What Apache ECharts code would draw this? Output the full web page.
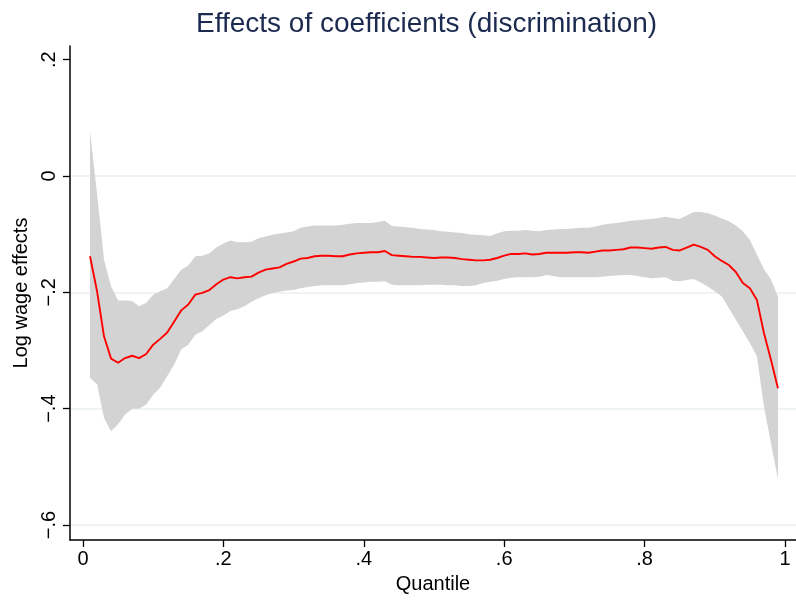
<!DOCTYPE html>
<html>
<head>
<meta charset="utf-8">
<script src="https://cdn.jsdelivr.net/npm/echarts@6/dist/echarts.min.js"></script>
<style>html,body{margin:0;padding:0;background:#fff}#c{width:796px;height:603px}</style>
</head>
<body>
<div id="c"></div>
<script>
var quantiles = [0.01,0.02,0.03,0.04,0.05,0.06,0.07,0.08,0.09,0.10,0.11,0.12,0.13,0.14,0.15,0.16,0.17,0.18,0.19,0.20,
0.21,0.22,0.23,0.24,0.25,0.26,0.27,0.28,0.29,0.30,0.31,0.32,0.33,0.34,0.35,0.36,0.37,0.38,0.39,0.40,
0.41,0.42,0.43,0.44,0.45,0.46,0.47,0.48,0.49,0.50,0.51,0.52,0.53,0.54,0.55,0.56,0.57,0.58,0.59,0.60,
0.61,0.62,0.63,0.64,0.65,0.66,0.67,0.68,0.69,0.70,0.71,0.72,0.73,0.74,0.75,0.76,0.77,0.78,0.79,0.80,
0.81,0.82,0.83,0.84,0.85,0.86,0.87,0.88,0.89,0.90,0.91,0.92,0.93,0.94,0.95,0.96,0.97,0.98,0.99];

var effect = [-0.138,-0.198,-0.276,-0.314,-0.321,-0.313,-0.309,-0.313,-0.306,-0.290,-0.280,-0.269,-0.250,-0.231,-0.221,-0.204,-0.201,-0.196,-0.186,-0.178,
-0.174,-0.176,-0.174,-0.173,-0.166,-0.161,-0.159,-0.157,-0.151,-0.147,-0.142,-0.141,-0.138,-0.137,-0.137,-0.138,-0.138,-0.135,-0.133,-0.132,
-0.131,-0.131,-0.129,-0.136,-0.137,-0.138,-0.139,-0.139,-0.140,-0.141,-0.140,-0.140,-0.141,-0.143,-0.144,-0.145,-0.145,-0.144,-0.141,-0.137,
-0.134,-0.134,-0.133,-0.135,-0.134,-0.132,-0.132,-0.132,-0.132,-0.131,-0.131,-0.132,-0.130,-0.128,-0.128,-0.127,-0.126,-0.123,-0.123,-0.124,
-0.125,-0.123,-0.122,-0.127,-0.128,-0.123,-0.118,-0.122,-0.127,-0.138,-0.146,-0.153,-0.165,-0.184,-0.193,-0.213,-0.270,-0.316,-0.365];

var upper = [0.076,-0.030,-0.144,-0.190,-0.214,-0.214,-0.215,-0.224,-0.218,-0.204,-0.198,-0.193,-0.177,-0.161,-0.154,-0.138,-0.137,-0.133,-0.123,-0.116,
-0.111,-0.114,-0.114,-0.113,-0.107,-0.104,-0.101,-0.099,-0.097,-0.095,-0.089,-0.087,-0.085,-0.085,-0.085,-0.085,-0.084,-0.082,-0.081,-0.081,
-0.081,-0.079,-0.077,-0.086,-0.087,-0.088,-0.089,-0.091,-0.092,-0.093,-0.095,-0.096,-0.097,-0.098,-0.100,-0.101,-0.102,-0.103,-0.099,-0.095,
-0.094,-0.094,-0.093,-0.094,-0.095,-0.093,-0.092,-0.091,-0.091,-0.090,-0.089,-0.089,-0.087,-0.084,-0.082,-0.081,-0.079,-0.077,-0.076,-0.075,
-0.074,-0.072,-0.070,-0.072,-0.074,-0.068,-0.062,-0.062,-0.064,-0.068,-0.073,-0.078,-0.085,-0.095,-0.110,-0.135,-0.160,-0.178,-0.207];

var lower = [-0.347,-0.358,-0.416,-0.439,-0.427,-0.410,-0.400,-0.400,-0.393,-0.376,-0.364,-0.344,-0.324,-0.298,-0.290,-0.273,-0.267,-0.256,-0.246,-0.240,
-0.232,-0.229,-0.224,-0.216,-0.210,-0.205,-0.201,-0.199,-0.197,-0.196,-0.193,-0.191,-0.189,-0.188,-0.188,-0.188,-0.188,-0.186,-0.184,-0.183,
-0.182,-0.182,-0.181,-0.187,-0.188,-0.188,-0.188,-0.188,-0.187,-0.187,-0.187,-0.188,-0.188,-0.189,-0.189,-0.188,-0.184,-0.182,-0.180,-0.177,
-0.175,-0.174,-0.174,-0.174,-0.173,-0.170,-0.172,-0.174,-0.174,-0.174,-0.174,-0.174,-0.174,-0.173,-0.172,-0.171,-0.170,-0.170,-0.172,-0.174,
-0.176,-0.175,-0.174,-0.180,-0.181,-0.179,-0.177,-0.183,-0.190,-0.198,-0.207,-0.227,-0.247,-0.267,-0.287,-0.310,-0.396,-0.459,-0.521];

var xTicks = [0, 0.2, 0.4, 0.6, 0.8, 1];
var xTickLabels = ['0', '.2', '.4', '.6', '.8', '1'];
var yTicks = [-0.6, -0.4, -0.2, 0, 0.2];
var yTickLabels = ['\u2212.6', '\u2212.4', '\u2212.2', '0', '.2'];
var yGrid = [-0.6, -0.4, -0.2, 0];

var FONT = 'Liberation Sans, Arial, sans-serif';

function fmt(vals, labels) {
  return function (v) {
    for (var i = 0; i < vals.length; i++) {
      if (Math.abs(vals[i] - v) < 1e-6) return labels[i];
    }
    return '';
  };
}

var bandData = quantiles.map(function (q, i) { return [q, lower[i], upper[i]]; });
var lineData = quantiles.map(function (q, i) { return [q, effect[i]]; });

function renderBand(params, api) {
  if (params.dataIndex !== 0) return null;
  var pts = [];
  var i;
  for (i = 0; i < bandData.length; i++) pts.push(api.coord([bandData[i][0], bandData[i][2]]));
  for (i = bandData.length - 1; i >= 0; i--) pts.push(api.coord([bandData[i][0], bandData[i][1]]));
  return {
    type: 'polygon',
    shape: { points: pts },
    style: { fill: '#d3d3d3', stroke: null }
  };
}

var chart = echarts.init(document.getElementById('c'), null, { renderer: 'canvas' });
chart.setOption({
  animation: false,
  backgroundColor: '#ffffff',
  textStyle: { fontFamily: FONT },
  title: {
    text: 'Effects of coefficients (discrimination)',
    left: 191,
    top: 5,
    textStyle: { fontFamily: FONT, fontSize: 28, fontWeight: 'normal', color: '#1c2a4f' }
  },
  grid: { left: 70, right: 0, top: 46, bottom: 63, containLabel: false },
  xAxis: {
    type: 'value',
    min: -0.0185,
    max: 1.0157,
    name: 'Quantile',
    nameLocation: 'middle',
    nameGap: 34,
    nameTextStyle: { fontFamily: FONT, fontSize: 20, color: '#000' },
    axisLine: { show: true, onZero: false, lineStyle: { color: '#000', width: 1.5 } },
    axisTick: { show: true, length: 7, lineStyle: { color: '#000', width: 1.3 }, customValues: xTicks },
    axisLabel: { fontFamily: FONT, fontSize: 20, color: '#000', margin: 9, customValues: xTicks, formatter: fmt(xTicks, xTickLabels) },
    splitLine: { show: false }
  },
  yAxis: {
    type: 'value',
    min: -0.6258,
    max: 0.2235,
    name: 'Log wage effects',
    nameLocation: 'middle',
    nameGap: 35,
    nameTextStyle: { fontFamily: FONT, fontSize: 20, color: '#000' },
    axisLine: { show: true, onZero: false, lineStyle: { color: '#000', width: 1.5 } },
    axisTick: { show: true, length: 7, lineStyle: { color: '#000', width: 1.3 }, customValues: yTicks },
    axisLabel: { fontFamily: FONT, fontSize: 20, color: '#000', margin: 11, rotate: 90, customValues: yTicks, formatter: fmt(yTicks, yTickLabels) },
    splitLine: { show: false }
  },
  series: [
    {
      name: 'grid',
      type: 'line',
      data: [],
      silent: true,
      z: 0,
      markLine: {
        silent: true,
        symbol: ['none', 'none'],
        label: { show: false },
        z: 0,
        lineStyle: { color: '#e8f0f2', width: 1.5, type: 'solid' },
        data: yGrid.map(function (v) { return { yAxis: v }; })
      }
    },
    {
      name: 'band',
      type: 'custom',
      data: bandData,
      encode: { x: 0, y: [1, 2] },
      renderItem: renderBand,
      silent: true,
      clip: true,
      z: 2
    },
    {
      name: 'effect',
      type: 'line',
      data: lineData,
      symbol: 'none',
      z: 3,
      lineStyle: { color: '#ff0000', width: 1.9 }
    }
  ]
});
</script>
</body>
</html>
